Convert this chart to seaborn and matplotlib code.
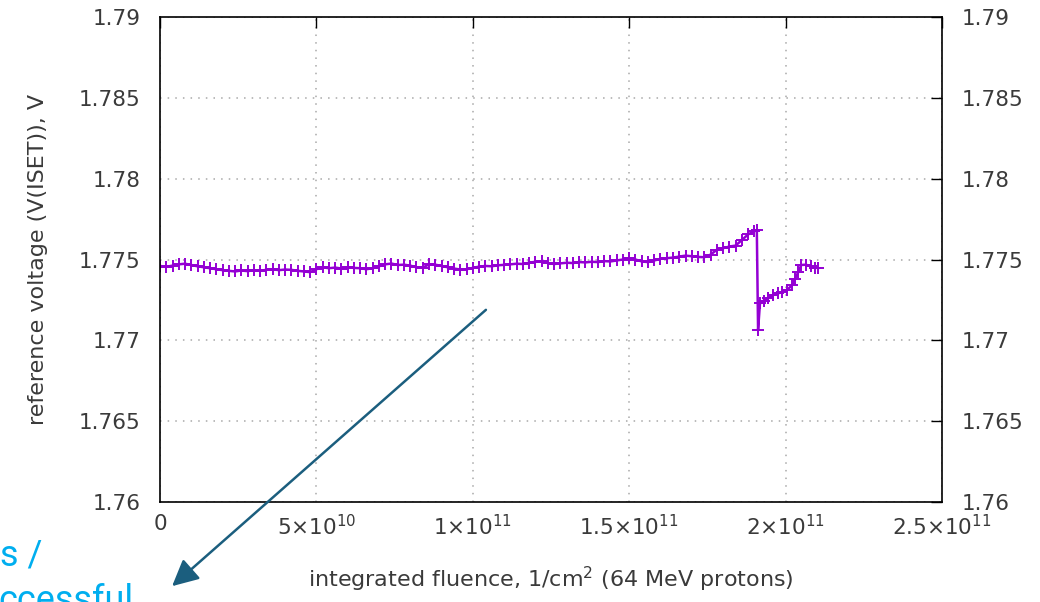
import numpy as np
import pandas as pd
import matplotlib
matplotlib.use("Agg")
import matplotlib.pyplot as plt
from matplotlib.ticker import FixedLocator, FixedFormatter
import seaborn as sns

# ---- data (fluence in units of 1e9 /cm^2, reference voltage in V) ----
fluence_e9 = [0, 2, 4, 6, 8, 10, 12, 14, 16, 18, 20, 22, 24, 26, 28, 30, 32, 34, 36, 38,
              40, 42, 44, 46, 48, 50, 52, 54, 56, 58, 60, 62, 64, 66, 68, 70, 72, 74, 76, 78,
              80, 82, 84, 86, 88, 90, 92, 94, 96, 98, 100, 102, 104, 106, 108, 110, 112, 114, 116, 118,
              120, 122, 124, 126, 128, 130, 132, 134, 136, 138, 140, 142, 144, 146, 148, 150, 152, 154, 156, 158,
              160, 162, 164, 166, 168, 170, 172, 174, 176, 178, 180, 182, 184, 186, 188, 190, 190.8,
              191.2, 191.8, 193, 194.5, 196, 197.5, 199, 200.5, 202, 203, 204, 205, 206.5, 208, 209.5, 210.5]
voltage = [1.77460, 1.77455, 1.77462, 1.77470, 1.77474, 1.77466, 1.77458, 1.77452, 1.77446, 1.77440,
           1.77434, 1.77430, 1.77426, 1.77432, 1.77428, 1.77434, 1.77430, 1.77436, 1.77440, 1.77434,
           1.77438, 1.77436, 1.77430, 1.77426, 1.77422, 1.77440, 1.77452, 1.77446, 1.77450, 1.77444,
           1.77452, 1.77448, 1.77446, 1.77440, 1.77446, 1.77458, 1.77470, 1.77475, 1.77466, 1.77468,
           1.77462, 1.77452, 1.77450, 1.77470, 1.77468, 1.77460, 1.77452, 1.77444, 1.77438, 1.77440,
           1.77448, 1.77456, 1.77460, 1.77458, 1.77464, 1.77467, 1.77470, 1.77474, 1.77472, 1.77480,
           1.77486, 1.77488, 1.77478, 1.77472, 1.77476, 1.77480, 1.77478, 1.77484, 1.77482, 1.77486,
           1.77484, 1.77490, 1.77488, 1.77494, 1.77500, 1.77508, 1.77500, 1.77488, 1.77484, 1.77494,
           1.77504, 1.77508, 1.77512, 1.77518, 1.77524, 1.77520, 1.77516, 1.77514, 1.77530, 1.77560,
           1.77570, 1.77580, 1.77586, 1.77620, 1.77655, 1.77676, 1.77680,
           1.77064, 1.77228, 1.77246, 1.77262, 1.77280, 1.77290, 1.77300, 1.77312, 1.77340, 1.77380,
           1.77420, 1.77466, 1.77468, 1.77458, 1.77450, 1.77446]

x_ticks = [0, 5e10, 1e11, 1.5e11, 2e11, 2.5e11]
x_tick_labels = ["0", "5\u00d710$^{10}$", "1\u00d710$^{11}$", "1.5\u00d710$^{11}$",
                 "2\u00d710$^{11}$", "2.5\u00d710$^{11}$"]
y_ticks = [1.76, 1.765, 1.77, 1.775, 1.78, 1.785, 1.79]
y_tick_labels = ["1.76", "1.765", "1.77", "1.775", "1.78", "1.785", "1.79"]

x_label = "integrated fluence, 1/cm$^{2}$ (64 MeV protons)"
y_label = "reference voltage (V(ISET)), V"
side_text_1 = "s /"
side_text_2 = "ccessful"

# ---- style ----
sns.set_theme(style="white")
plt.rcParams["font.family"] = ["DejaVu Sans"]
plt.rcParams["mathtext.fontset"] = "dejavusans"
plt.rcParams["mathtext.default"] = "regular"

fig = plt.figure(figsize=(10.4, 6.02), dpi=100)
ax = fig.add_axes([160 / 1040, 1 - 502 / 602, 782 / 1040, 485 / 602])

df = pd.DataFrame({"fluence": np.array(fluence_e9) * 1e9, "voltage": voltage})
sns.lineplot(data=df, x="fluence", y="voltage", sort=False, estimator=None, ax=ax,
             color="#9400D3", linewidth=1.8, marker="+", markersize=9,
             markeredgewidth=1.4, markeredgecolor="#9400D3")

ax.set_xlim(0, 2.5e11)
ax.set_ylim(1.76, 1.79)
ax.xaxis.set_major_locator(FixedLocator(x_ticks))
ax.xaxis.set_major_formatter(FixedFormatter(x_tick_labels))
ax.yaxis.set_major_locator(FixedLocator(y_ticks))
ax.yaxis.set_major_formatter(FixedFormatter(y_tick_labels))

tick_col = "#3a3a3a"
ax.tick_params(axis="both", which="major", direction="in", length=8, width=1,
               colors="black", labelcolor=tick_col, labelsize=15.5,
               top=True, right=True, labelright=True)
ax.tick_params(axis="x", pad=9)
ax.tick_params(axis="y", pad=14)

ax.grid(True, color="#a8a8a8", linestyle=(0, (1, 4)), linewidth=1.1)
for s in ax.spines.values():
    s.set_visible(True)
    s.set_color("black")
    s.set_linewidth(1.2)

ax.set_xlabel(x_label, fontsize=16, color=tick_col, labelpad=18)
ax.set_ylabel(y_label, fontsize=16, color=tick_col, labelpad=22)

# annotation arrow and cut-off side text
fig.patches.append(matplotlib.patches.FancyArrowPatch(
    (488 / 1040, 1 - 308 / 602), (170 / 1040, 1 - 588 / 602),
    transform=fig.transFigure, arrowstyle="-|>,head_length=8,head_width=4",
    mutation_scale=2, color="#1b5e7e", linewidth=1.8))
fig.text(0.0, 1 - 565 / 602, side_text_1, fontsize=26, family="Roboto",
         color="#00aeef", ha="left", va="baseline")
fig.text(-0.002, 1 - 611 / 602, side_text_2, fontsize=26, family="Roboto",
         color="#00aeef", ha="left", va="baseline")

fig.savefig("out.png", dpi=100)
